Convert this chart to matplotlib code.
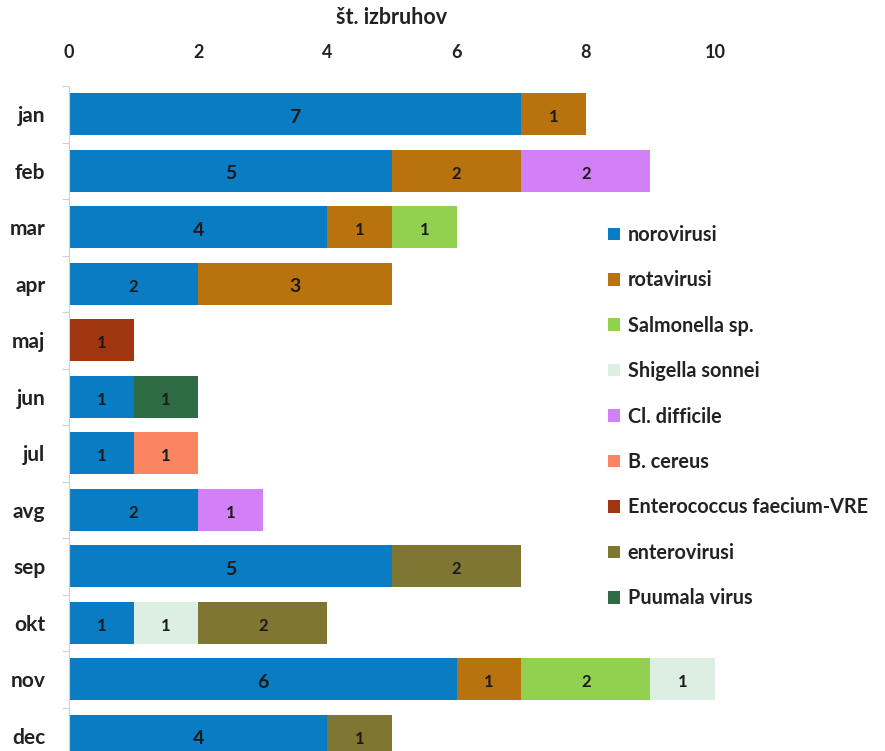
import matplotlib
matplotlib.use("Agg")
import matplotlib.pyplot as plt
import numpy as np

plt.rcParams['font.family'] = ['Lato', 'DejaVu Sans']

months = ["jan", "feb", "mar", "apr", "maj", "jun", "jul", "avg", "sep", "okt", "nov", "dec"]
series_names = ["norovirusi", "rotavirusi", "Salmonella sp.", "Shigella sonnei", "Cl. difficile",
                "B. cereus", "Enterococcus faecium-VRE", "enterovirusi", "Puumala virus"]
norovirusi   = [7, 5, 4, 2, 0, 1, 1, 2, 5, 1, 6, 4]
rotavirusi   = [1, 2, 1, 3, 0, 0, 0, 0, 0, 0, 1, 0]
salmonella   = [0, 0, 1, 0, 0, 0, 0, 0, 0, 0, 2, 0]
shigella     = [0, 0, 0, 0, 0, 0, 0, 0, 0, 1, 1, 0]
cl_difficile = [0, 2, 0, 0, 0, 0, 0, 1, 0, 0, 0, 0]
b_cereus     = [0, 0, 0, 0, 0, 0, 1, 0, 0, 0, 0, 0]
enterococcus = [0, 0, 0, 0, 1, 0, 0, 0, 0, 0, 0, 0]
enterovirusi = [0, 0, 0, 0, 0, 0, 0, 0, 2, 2, 0, 1]
puumala      = [0, 0, 0, 0, 0, 1, 0, 0, 0, 0, 0, 0]
x_ticks = [0, 2, 4, 6, 8, 10]

series = [norovirusi, rotavirusi, salmonella, shigella, cl_difficile, b_cereus,
          enterococcus, enterovirusi, puumala]
colors = ["#0A7CC3", "#B8720E", "#92D050", "#DDEFE3", "#D280F5", "#F98561",
          "#A0360F", "#7F7634", "#2E6B45"]

fig = plt.figure(figsize=(8.85, 7.51), dpi=100)
W, H = 885, 751
left, right, top, bottom = 69, 715, 86, 764
ax = fig.add_axes([left / W, 1 - bottom / H, (right - left) / W, (bottom - top) / H])

y = np.arange(len(months))
cum = np.zeros(len(months))
for name, vals, col in zip(series_names, series, colors):
    vals = np.array(vals, dtype=float)
    ax.barh(y, vals, left=cum, height=0.75, color=col, label=name, edgecolor='none')
    for i, v in enumerate(vals):
        if v > 0:
            ax.text(cum[i] + v / 2, y[i] + 0.05, f"{int(v)}", ha='center', va='center',
                    fontsize=12 if v < 3 else 14, fontweight='bold', color='#1a1a1a')
    cum += vals

ax.set_xlim(0, 10)
ax.set_ylim(len(months) - 0.5, -0.5)
ax.xaxis.tick_top()
ax.set_xticks(x_ticks)
ax.set_xticklabels([str(t) for t in x_ticks], fontsize=13, fontweight='bold', color='#222222')
ax.tick_params(axis='x', length=0, pad=18)
ax.set_yticks(y)
ax.set_yticklabels(months, fontsize=15, fontweight='bold', color='#222222')
ax.tick_params(axis='y', length=0, pad=17)
ax.set_yticks(np.arange(len(months) + 1) - 0.5, minor=True)
ax.tick_params(axis='y', which='minor', length=5, color='#d0d0d0', width=0.8)
for s in ['top', 'right', 'bottom']:
    ax.spines[s].set_visible(False)
ax.spines['left'].set_color('#d0d0d0')
ax.spines['left'].set_linewidth(0.8)

fig.text(392 / W, 1 - 18 / H, "št. izbruhov", ha='center', va='center', fontsize=15.5,
         fontweight='bold', color='#222222')

leg = fig.legend(loc='upper left', bbox_to_anchor=(590 / W, 1 - 207 / H), frameon=False,
                 handlelength=0.6, handleheight=0.6, handletextpad=0.4,
                 labelspacing=1.28, prop={'weight': 'bold', 'size': 14.3})
for t in leg.get_texts():
    t.set_color('#222222')

fig.savefig("out.png", dpi=100)
